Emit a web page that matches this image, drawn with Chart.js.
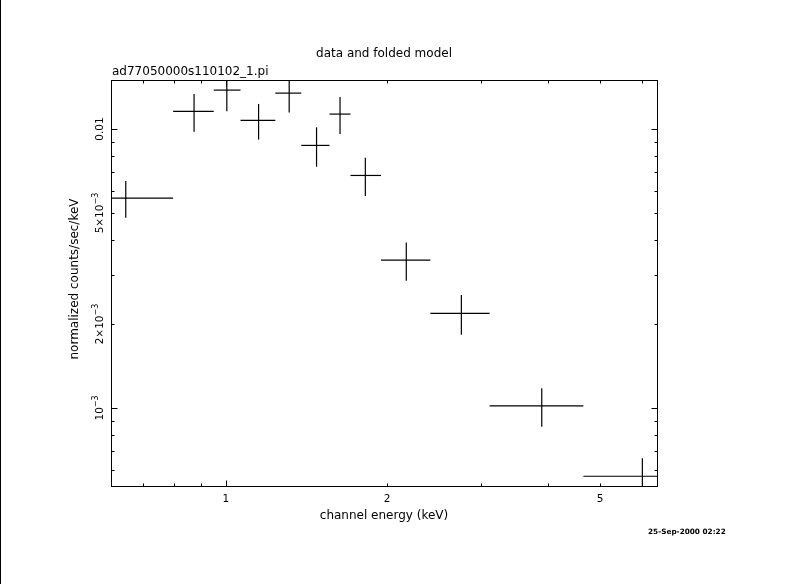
<!DOCTYPE html>
<html>
<head>
<meta charset="utf-8">
<script src="https://cdn.jsdelivr.net/npm/chart.js@4"></script>
<style>
  body { margin: 0; background: #fff; }
  canvas { display: block; }
</style>
</head>
<body>
<canvas id="foldedChart" width="790" height="584"></canvas>
<script>
// channel energy (keV): bin centre and bin edges
const energy     = [0.650, 0.872, 1.004, 1.151, 1.313, 1.477, 1.634, 1.822, 2.173, 2.754, 3.892, 6.00];
const energyLow  = [0.500, 0.797, 0.949, 1.065, 1.237, 1.383, 1.562, 1.709, 1.949, 2.410, 3.110, 4.655];
const energyHigh = [0.797, 0.949, 1.065, 1.237, 1.383, 1.562, 1.709, 1.949, 2.410, 3.110, 4.655, 7.500];
// normalized counts/sec/keV and 1-sigma error
const rate    = [5.66e-3, 1.157e-2, 1.38e-2, 1.074e-2, 1.346e-2, 8.74e-3, 1.132e-2, 6.82e-3, 3.39e-3, 2.185e-3, 1.017e-3, 5.69e-4];
const rateErr = [0.85e-3, 1.78e-3, 2.2e-3, 1.57e-3, 2.0e-3, 1.41e-3, 1.71e-3, 1.07e-3, 0.53e-3, 0.355e-3, 0.16e-3, 0.91e-4];

// axis ticks
const xTickLabels = [1, 2, 5];
const xMajorTicks = [1];
const xMinorTicks = [0.7, 0.8, 0.9, 2, 3, 4, 5, 6];
const yTickValues = [0.001, 0.002, 0.005, 0.01];
const yTickLabels = ['10|\u22123', '2\u00d710|\u22123', '5\u00d710|\u22123', '0.01'];
const yMajorTicks = [0.001, 0.01];
const yMinorTicks = [6e-4, 7e-4, 8e-4, 9e-4, 2e-3, 3e-3, 4e-3, 5e-3, 6e-3, 7e-3, 8e-3, 9e-3];

const FONT = '"DejaVu Sans", sans-serif';

// each data point is a cross: one horizontal (bin width) and one vertical (error) segment
const segments = [];
energy.forEach((e, i) => {
    segments.push([{ x: energyLow[i], y: rate[i] }, { x: energyHigh[i], y: rate[i] }]);
    segments.push([{ x: e, y: rate[i] - rateErr[i] }, { x: e, y: rate[i] + rateErr[i] }]);
});

const framePlugin = {
    id: 'framePlugin',
    afterDraw(chart) {
        const { ctx, chartArea: a, scales: { x, y } } = chart;
        const L = Math.round(a.left) + 0.5, R = Math.round(a.right) + 0.5;
        const T = Math.round(a.top) + 0.5, B = Math.round(a.bottom) + 0.5;
        ctx.save();
        ctx.strokeStyle = '#000';
        ctx.fillStyle = '#000';
        ctx.lineWidth = 1;

        // page edge line
        ctx.fillRect(0, 0, 1, 584);

        ctx.strokeRect(L, T, R - L, B - T);

        // inward ticks
        ctx.beginPath();
        const xTicks = xMajorTicks.map(v => [v, 6]).concat(xMinorTicks.map(v => [v, 3]));
        xTicks.forEach(([v, len]) => {
            const px = Math.round(x.getPixelForValue(v)) + 0.5;
            ctx.moveTo(px, B); ctx.lineTo(px, B - len);
            ctx.moveTo(px, T); ctx.lineTo(px, T + len);
        });
        const yTicks = yMajorTicks.map(v => [v, 6]).concat(yMinorTicks.map(v => [v, 3]));
        yTicks.forEach(([v, len]) => {
            const py = Math.round(y.getPixelForValue(v)) + 0.5;
            ctx.moveTo(L, py); ctx.lineTo(L + len, py);
            ctx.moveTo(R, py); ctx.lineTo(R - len, py);
        });
        ctx.stroke();

        // x tick labels
        ctx.font = '10.5px ' + FONT;
        ctx.textAlign = 'center';
        ctx.textBaseline = 'middle';
        xTickLabels.forEach(v => {
            ctx.fillText(String(v), x.getPixelForValue(v), 499);
        });

        // y tick labels, rotated, with superscript exponent
        yTickValues.forEach((v, i) => {
            const [base, exp] = yTickLabels[i].split('|');
            const py = y.getPixelForValue(v);
            ctx.save();
            ctx.translate(100, py);
            ctx.rotate(-Math.PI / 2);
            ctx.textAlign = 'left';
            ctx.font = '10.5px ' + FONT;
            const w1 = ctx.measureText(base).width;
            let w2 = 0;
            if (exp) {
                ctx.font = '8px ' + FONT;
                w2 = ctx.measureText(exp).width;
            }
            const start = -(w1 + w2) / 2;
            ctx.font = '10.5px ' + FONT;
            ctx.fillText(base, start, 0);
            if (exp) {
                ctx.font = '8px ' + FONT;
                ctx.fillText(exp, start + w1, -4.5);
            }
            ctx.restore();
        });

        // titles
        ctx.textAlign = 'center';
        ctx.font = '12px ' + FONT;
        ctx.fillText('data and folded model', (a.left + a.right) / 2, 54);
        ctx.textAlign = 'left';
        ctx.fillText('ad77050000s110102_1.pi', 112, 72);
        ctx.textAlign = 'center';
        ctx.fillText('channel energy (keV)', (a.left + a.right) / 2, 516);

        ctx.save();
        ctx.translate(75, 279);
        ctx.rotate(-Math.PI / 2);
        ctx.fillText('normalized counts/sec/keV', 0, 0);
        ctx.restore();

        ctx.font = 'bold 7.3px ' + FONT;
        ctx.textAlign = 'left';
        ctx.fillText('25-Sep-2000 02:22', 648, 532);
        ctx.restore();
    }
};

const ctx = document.getElementById('foldedChart').getContext('2d');
const foldedChart = new Chart(ctx, {
    type: 'scatter',
    data: {
        datasets: segments.map(seg => ({
            data: seg,
            showLine: true,
            borderColor: '#000',
            borderWidth: 1.2,
            pointRadius: 0,
            fill: false
        }))
    },
    options: {
        responsive: false,
        animation: false,
        devicePixelRatio: 1,
        events: [],
        layout: {
            padding: { left: 111, top: 80, right: 133, bottom: 98 }
        },
        plugins: {
            legend: { display: false },
            tooltip: { enabled: false }
        },
        scales: {
            x: { type: 'logarithmic', min: 0.61, max: 6.39, bounds: 'data', display: false },
            y: { type: 'logarithmic', min: 5.25e-4, max: 0.015, bounds: 'data', display: false }
        }
    },
    plugins: [framePlugin]
});
</script>
</body>
</html>
